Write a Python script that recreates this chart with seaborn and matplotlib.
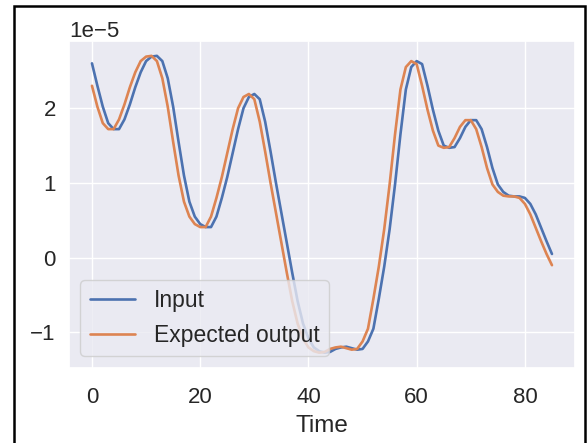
import matplotlib
matplotlib.use("Agg")
import matplotlib.pyplot as plt
import numpy as np
import pandas as pd
import seaborn as sns
from matplotlib.patches import Rectangle

# Time steps and the two signals (units of 1e-5)
time = list(range(86))

input_vals = [
    2.60, 2.30, 2.02, 1.80, 1.72, 1.72, 1.85, 2.05, 2.28, 2.48,
    2.63, 2.69, 2.70, 2.63, 2.40, 2.02, 1.55, 1.10, 0.75, 0.55,
    0.45, 0.41, 0.41, 0.55, 0.80, 1.08, 1.40, 1.72, 2.00, 2.15,
    2.19, 2.12, 1.82, 1.42, 1.00, 0.60, 0.20, -0.20, -0.58, -0.88,
    -1.08, -1.20, -1.25, -1.27, -1.26, -1.22, -1.20, -1.19, -1.21, -1.23,
    -1.22, -1.12, -0.95, -0.55, -0.12, 0.38, 0.98, 1.65, 2.25, 2.55,
    2.63, 2.59, 2.30, 1.98, 1.70, 1.50, 1.47, 1.48, 1.60, 1.75,
    1.84, 1.84, 1.72, 1.48, 1.20, 0.98, 0.88, 0.83, 0.82, 0.82,
    0.80, 0.72, 0.58, 0.40, 0.22, 0.05,
]

expected_vals = [
    2.30, 2.02, 1.80, 1.72, 1.72, 1.85, 2.05, 2.28, 2.48, 2.63,
    2.69, 2.70, 2.63, 2.40, 2.02, 1.55, 1.10, 0.75, 0.55, 0.45,
    0.41, 0.41, 0.55, 0.80, 1.08, 1.40, 1.72, 2.00, 2.15, 2.19,
    2.12, 1.82, 1.42, 1.00, 0.60, 0.20, -0.20, -0.58, -0.88, -1.08,
    -1.20, -1.25, -1.27, -1.26, -1.22, -1.20, -1.19, -1.21, -1.23, -1.22,
    -1.12, -0.95, -0.55, -0.12, 0.38, 0.98, 1.65, 2.25, 2.55, 2.63,
    2.59, 2.30, 1.98, 1.70, 1.50, 1.47, 1.48, 1.60, 1.75, 1.84,
    1.84, 1.72, 1.48, 1.20, 0.98, 0.88, 0.83, 0.82, 0.82, 0.80,
    0.72, 0.58, 0.40, 0.22, 0.05, -0.10,
]

scale = 1e-5
df = pd.DataFrame({
    "Time": time,
    "Input": np.array(input_vals) * scale,
    "Expected output": np.array(expected_vals) * scale,
})

sns.set_theme(style="darkgrid")
plt.rcParams["font.family"] = ["Liberation Sans", "DejaVu Sans"]

fig = plt.figure(figsize=(5.87, 4.43), dpi=100)
ax = fig.add_axes([0.1175, 0.1704, 0.862, 0.737])

sns.lineplot(data=df, x="Time", y="Input", ax=ax, label="Input", linewidth=1.9)
sns.lineplot(data=df, x="Time", y="Expected output", ax=ax,
             label="Expected output", linewidth=1.9)

ax.set_xlabel("Time", fontsize=17.5, labelpad=5)
ax.set_ylabel("")
ax.tick_params(axis="both", labelsize=16)
ax.tick_params(axis="x", pad=8)
ax.yaxis.get_offset_text().set_fontsize(16)
ax.set_xticks([0, 20, 40, 60, 80])
ax.legend(loc="lower left", fontsize=16.5)

# black frame around the figure, open past the bottom edge
fig.patches.append(Rectangle((0.0239, -0.05), 0.9727, 1.0365,
                             transform=fig.transFigure, fill=False,
                             edgecolor="black", linewidth=1.8))

fig.savefig("out.png", dpi=100)
